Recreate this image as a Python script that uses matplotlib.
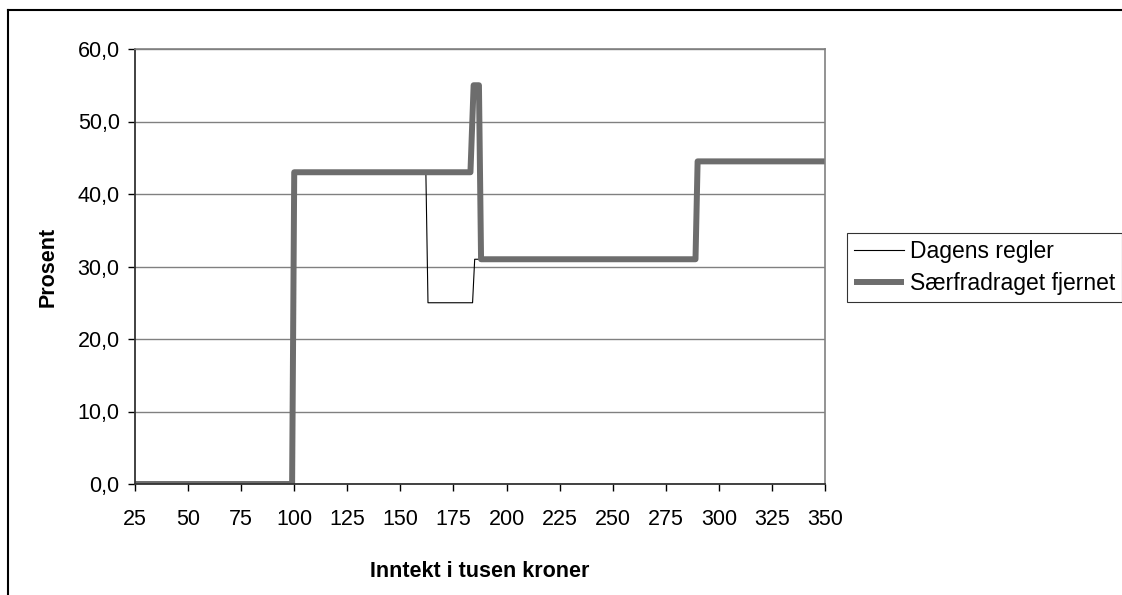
import matplotlib
matplotlib.use('Agg')
import matplotlib.pyplot as plt
from matplotlib.lines import Line2D

plt.rcParams['font.family'] = ['Liberation Sans', 'DejaVu Sans']

# breakpoints of the two step curves (inntekt i tusen kroner, prosent)
dagens_x = [25, 99, 100, 162, 163, 184, 185, 289, 290, 350]
dagens_y = [0.0, 0.0, 43.0, 43.0, 25.0, 25.0, 31.0, 31.0, 44.5, 44.5]

saerfradrag_x = [25, 99, 100, 183, 184.5, 187, 188, 289, 290, 350]
saerfradrag_y = [0.0, 0.0, 43.0, 43.0, 55.0, 55.0, 31.0, 31.0, 44.5, 44.5]

x_ticks = list(range(25, 351, 25))
y_ticks = [0, 10, 20, 30, 40, 50, 60]
y_labels = ['%.1f' % v for v in y_ticks]
y_labels = [s.replace('.', ',') for s in y_labels]

fig = plt.figure(figsize=(11.22, 5.95), dpi=100)
ax = fig.add_axes([135 / 1122, 1 - 484 / 595, 690 / 1122, 435 / 595])

ax.plot(dagens_x, dagens_y, color='black', lw=0.8, label='Dagens regler')
ax.plot(saerfradrag_x, saerfradrag_y, color='#6d6d6d', lw=4.3,
        solid_joinstyle='round', solid_capstyle='butt',
        label='Særfradraget fjernet')

ax.set_xlim(25, 350)
ax.set_ylim(0, 60)
ax.set_xticks(x_ticks)
ax.set_yticks(y_ticks)
ax.set_yticklabels(y_labels)
ax.tick_params(labelsize=15.5, length=5, width=1, direction='out')
ax.tick_params(axis='x', pad=13)
ax.tick_params(axis='y', pad=6)
ax.yaxis.grid(True, color='#808080', lw=1)
ax.set_axisbelow(True)

for side in ['top', 'right']:
    ax.spines[side].set_color('#808080')
    ax.spines[side].set_linewidth(1.2)
for side in ['left', 'bottom']:
    ax.spines[side].set_color('#333333')
    ax.spines[side].set_linewidth(1.3)

ax.set_xlabel('Inntekt i tusen kroner', fontsize=15.5, fontweight='bold', labelpad=22)
ax.set_ylabel('Prosent', fontsize=15.5, fontweight='bold', labelpad=14)

leg = fig.legend(loc='lower left', bbox_to_anchor=(847 / 1122, 1 - 302 / 595),
                 fontsize=16.5, frameon=True, fancybox=False, edgecolor='black',
                 handlelength=2.2, handletextpad=0.26, borderpad=0.3,
                 labelspacing=0.4, borderaxespad=0)
leg.get_frame().set_linewidth(0.8)

# outer chart border (only top and left are inside the picture)
fig.add_artist(Line2D([8 / 1122, 1.0], [1 - 9.5 / 595, 1 - 9.5 / 595],
                      transform=fig.transFigure, color='black', lw=1.5))
fig.add_artist(Line2D([8 / 1122, 8 / 1122], [0.0, 1 - 9.5 / 595],
                      transform=fig.transFigure, color='black', lw=1.5))

fig.savefig('out.png', dpi=100)
